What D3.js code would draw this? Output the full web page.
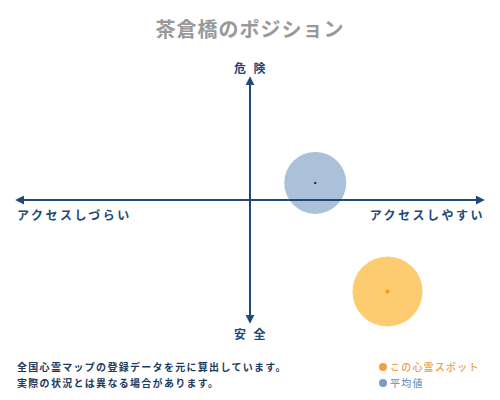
<!DOCTYPE html>
<html>
<head>
<meta charset="utf-8">
<script src="https://cdn.jsdelivr.net/npm/d3@7"></script>
<style>
  body { margin: 0; background: #fff; }
  svg { display: block; font-family: "Noto Sans CJK JP", sans-serif; }
</style>
</head>
<body>
<div id="chart"></div>
<script>
// data
const title = "茶倉橋のポジション"
const axisLabels = ["危 険", "安 全", "アクセスしづらい", "アクセスしやすい"]
const seriesNames = ["この心霊スポット", "平均値"]
const seriesX = [5.9, 2.8]      // access: - hard / + easy
const seriesY = [-7.5, 1.4]     // danger: + danger / - safe
const seriesR = [35, 31]
const notes = ["全国心霊マップの登録データを元に算出しています。", "実際の状況とは異なる場合があります。"]

const width = 500, height = 400
const navy = "#1d4a78"
const fills = ["#fdcb70", "#abc1da"]
const dots = ["#f0a000", "#1d3050"]
const legendCol = ["#f0a040", "#7a9cc0"]

const svg = d3.select("#chart").append("svg")
    .attr("width", width)
    .attr("height", height)

const x = d3.scaleLinear().domain([-10, 10]).range([17, 483])
const y = d3.scaleLinear().domain([-10, 10]).range([322, 78])

svg.append("text")
    .attr("x", width / 2)
    .attr("y", 37)
    .attr("text-anchor", "middle")
    .attr("fill", "#999")
    .attr("font-size", 20)
    .attr("font-weight", "bold")
    .attr("letter-spacing", 1)
    .text(title)

// arrow heads
const defs = svg.append("defs")
defs.append("marker")
    .attr("id", "arr")
    .attr("viewBox", "0 0 10 10")
    .attr("refX", 8).attr("refY", 5)
    .attr("markerWidth", 4.5).attr("markerHeight", 4.5)
    .attr("orient", "auto-start-reverse")
    .append("path")
    .attr("d", "M0,0 L10,5 L0,10 z")
    .attr("fill", navy)

// circles first, axes on top
const pts = seriesX.map((v, i) => ({ x: v, y: seriesY[i], r: seriesR[i], i }))
svg.selectAll("circle.bub")
    .data(pts.slice().reverse())
    .enter().append("circle")
    .attr("class", "bub")
    .attr("cx", d => x(d.x))
    .attr("cy", d => y(d.y))
    .attr("r", d => d.r)
    .attr("fill", d => fills[d.i])

svg.append("line")
    .attr("x1", x(-10)).attr("x2", x(10))
    .attr("y1", y(0)).attr("y2", y(0))
    .attr("stroke", navy).attr("stroke-width", 2)
    .attr("marker-start", "url(#arr)")
    .attr("marker-end", "url(#arr)")

svg.append("line")
    .attr("x1", x(0)).attr("x2", x(0))
    .attr("y1", y(-10)).attr("y2", y(10))
    .attr("stroke", navy).attr("stroke-width", 2)
    .attr("marker-start", "url(#arr)")
    .attr("marker-end", "url(#arr)")

svg.selectAll("circle.dot")
    .data(pts)
    .enter().append("circle")
    .attr("class", "dot")
    .attr("cx", d => x(d.x))
    .attr("cy", d => y(d.y))
    .attr("r", d => d.i === 0 ? 2 : 1.2)
    .attr("fill", d => dots[d.i])

// axis labels
const lab = (txt, px, py, anchor) => svg.append("text")
    .attr("x", px).attr("y", py)
    .attr("text-anchor", anchor)
    .attr("fill", navy)
    .attr("font-size", 12)
    .attr("font-weight", "bold")
    .attr("letter-spacing", 2.5)
    .text(txt)

lab(axisLabels[0], x(0) + 1, 73, "middle")
lab(axisLabels[1], x(0) + 1, 339, "middle")
lab(axisLabels[2], x(-10), 220, "start")
lab(axisLabels[3], x(10) + 2, 220, "end")

// notes
svg.selectAll("text.note")
    .data(notes)
    .enter().append("text")
    .attr("class", "note")
    .attr("x", 17)
    .attr("y", (d, i) => 371 + i * 16)
    .attr("fill", "#1d3a5f")
    .attr("font-size", 10)
    .attr("font-weight", "bold")
    .attr("letter-spacing", 1.3)
    .text(d => d)

// legend
const legend = svg.append("g").attr("transform", "translate(383,367)")
legend.selectAll("circle")
    .data(seriesNames)
    .enter().append("circle")
    .attr("cx", 0)
    .attr("cy", (d, i) => i * 16)
    .attr("r", 4)
    .attr("fill", (d, i) => legendCol[i])
legend.selectAll("text")
    .data(seriesNames)
    .enter().append("text")
    .attr("x", 7)
    .attr("y", (d, i) => i * 16 + 4)
    .attr("fill", (d, i) => legendCol[i])
    .attr("font-size", 10)
    .attr("font-weight", 500)
    .attr("letter-spacing", 1.2)
    .text(d => d)
</script>
</body>
</html>
